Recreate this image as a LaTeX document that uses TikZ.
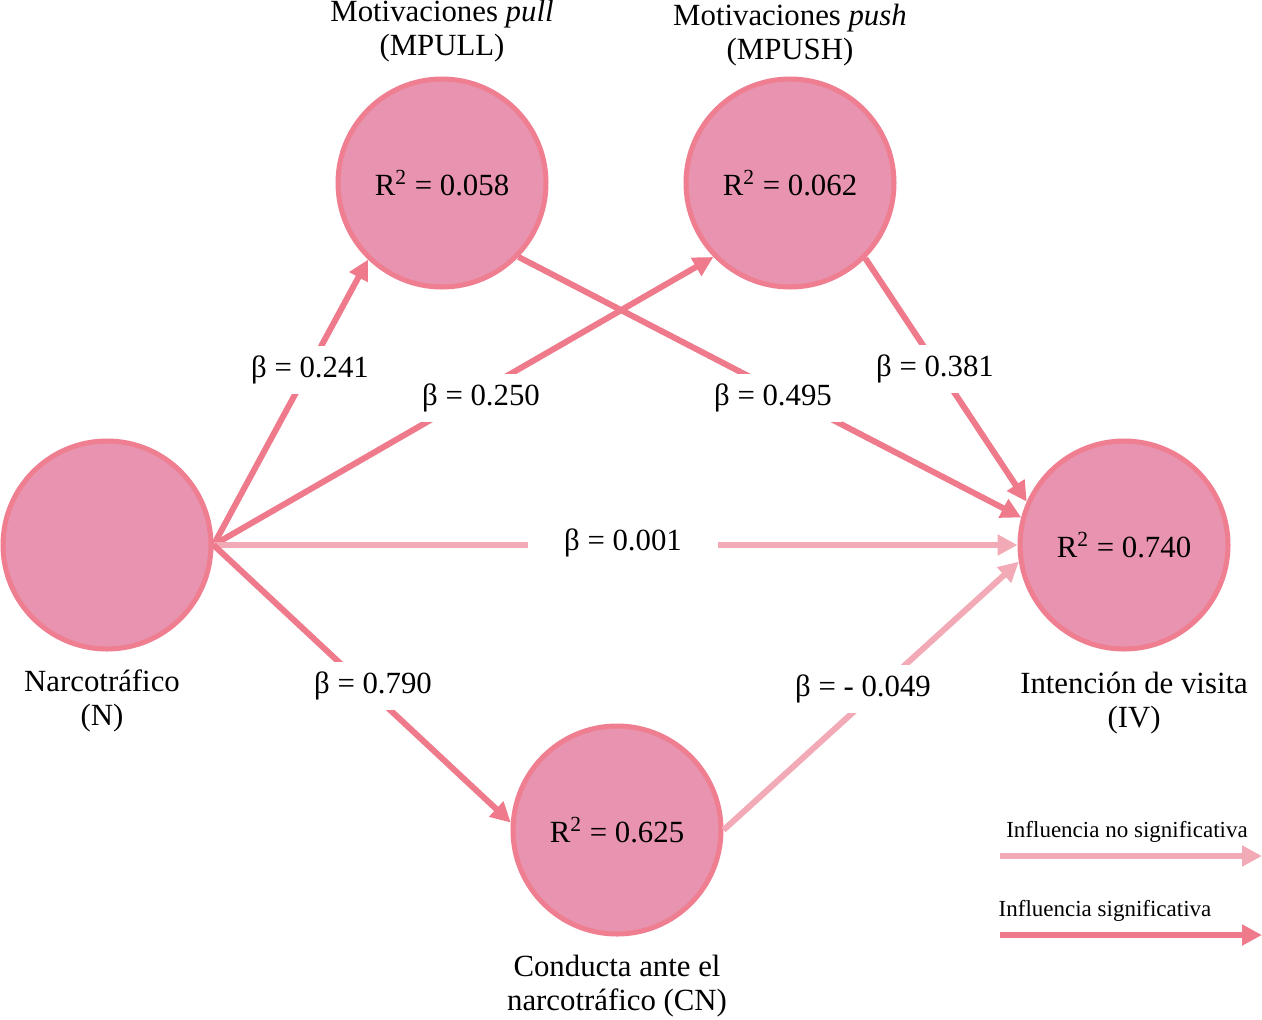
\documentclass[tikz,border=0pt]{standalone}
\usepackage{fontspec}
\setmainfont{Liberation Serif}
\usetikzlibrary{arrows.meta}
\definecolor{cfill}{HTML}{E893B0}
\definecolor{cedge}{HTML}{EE7E90}
\definecolor{sig}{HTML}{EE7A8C}
\definecolor{nsig}{HTML}{F2AAB6}
\tikzset{
  var/.style={circle,draw=cedge,line width=2.5pt,fill=cfill,minimum size=104pt,inner sep=0pt,
    font=\fontsize{15.4}{17}\selectfont},
  captext/.style={align=center,font=\fontsize{15.4}{16.8}\selectfont,inner sep=0pt},
  sigarrow/.style={draw=sig,line width=3pt,-{Triangle[length=10pt,width=10pt]}},
  nsigarrow/.style={draw=nsig,line width=3pt,-{Triangle[length=10pt,width=10pt]}},
  coef/.style={fill=white,font=\fontsize{15.4}{17}\selectfont,inner sep=5pt},
  leg/.style={font=\fontsize{11.5}{13}\selectfont,inner sep=0pt}
}
\begin{document}
\begin{tikzpicture}[x=0.5pt,y=-0.5pt]
\useasboundingbox (0,0) rectangle (1262,1019);
% circles
\node[var] (N) at (107,545) {};
\node[var] (MPULL) at (442,183) {R\textsuperscript{2} = 0.058};
\node[var] (MPUSH) at (790,183) {R\textsuperscript{2} = 0.062};
\node[var] (IV) at (1124,545) {R\textsuperscript{2} = 0.740};
\node[var] (CN) at (617,830) {R\textsuperscript{2} = 0.625};
% captions
\node[captext] (tN) at (102,701) {Narcotráfico\\(N)};
\node[captext] (tPULL) at (442,31) {Motivaciones \textit{pull}\\(MPULL)};
\node[captext] (tPUSH) at (790,35) {Motivaciones \textit{push}\\(MPUSH)};
\node[captext] (tIV) at (1134,703) {Intención de visita\\(IV)};
\node[captext] (tCN) at (617,986) {Conducta ante el\\narcotráfico (CN)};
% paths
\draw[sigarrow] (N.east) -- (MPULL.226);
\draw[sigarrow] (N.east) -- (MPUSH.224);
\draw[nsigarrow] (N.east) -- (IV.west);
\draw[sigarrow] (N.east) -- (CN.176);
\draw[sigarrow] (MPULL.316) -- (IV.165);
\draw[sigarrow] (MPUSH.315) -- (IV.156);
\draw[nsigarrow] (CN.east) -- (IV.189);
% coefficients
\node[coef] (b1) at (310,370) {β = 0.241};
\node[coef] (b2) at (481,398) {β = 0.250};
\node[coef,inner xsep=18pt] (b3) at (623,543) {β = 0.001};
\node[coef] (b4) at (373,686) {β = 0.790};
\node[coef] (b5) at (773,398) {β = 0.495};
\node[coef] (b6) at (935,369) {β = 0.381};
\node[coef] (b7) at (863,689) {β = - 0.049};
% legend
\coordinate (l1a) at (1000,856);
\coordinate (l1b) at (1262,856);
\coordinate (l2a) at (1000,935);
\coordinate (l2b) at (1262,935);
\draw[nsigarrow] (l1a) -- (l1b);
\draw[sigarrow] (l2a) -- (l2b);
\node[leg] (lg1) at (1127,832) {Influencia no significativa};
\node[leg] (lg2) at (1105,911) {Influencia significativa};
\end{tikzpicture}
\end{document}
